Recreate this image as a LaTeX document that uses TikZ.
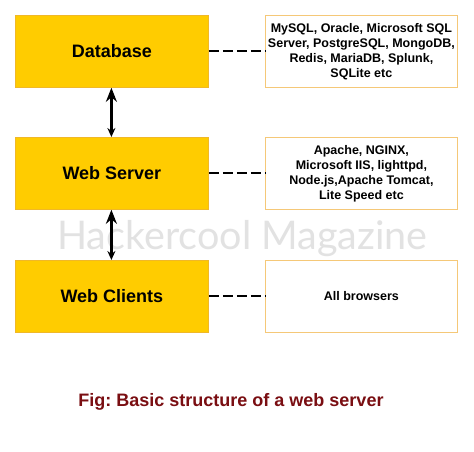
\documentclass[tikz,border=0pt]{standalone}
\usepackage{fontspec}
\setmainfont{Liberation Sans}
\newfontfamily\wmfont{Lato}
\usetikzlibrary{arrows.meta}
\frenchspacing
\definecolor{boxyellow}{RGB}{255,204,0}
\definecolor{boxedge}{RGB}{240,184,40}
\definecolor{infoedge}{RGB}{245,200,120}
\definecolor{capred}{RGB}{122,14,18}
\definecolor{wmgray}{RGB}{226,226,226}
\tikzset{
  mainbox/.style={draw=boxedge, line width=0.8pt, fill=boxyellow, minimum width=193pt, minimum height=72pt, inner sep=0pt, font=\fontsize{18}{20}\selectfont\bfseries, anchor=north west},
  infobox/.style={draw=infoedge, line width=0.8pt, fill=white, minimum width=192pt, minimum height=72pt, inner sep=0pt, align=center, font=\fontsize{12.5}{15}\selectfont\bfseries, anchor=north west},
  dashlink/.style={line width=2pt, dash pattern=on 10pt off 4pt},
  biarrow/.style={line width=2.4pt, {Stealth[length=14pt,width=11pt]}-{Stealth[length=9pt,width=8pt]}}
}
\begin{document}
\begin{tikzpicture}[x=1pt,y=-1pt]
\useasboundingbox[fill=white] (0,0) rectangle (474,451);
\node[font=\wmfont\fontsize{39.5}{44}\selectfont, text=wmgray] (wm) at (242.5,239) {Hackercool Magazine};
\node[mainbox] (db) at (15,15) {Database};
\node[mainbox] (ws) at (15,137) {Web Server};
\node[mainbox] (wc) at (15,260) {Web Clients};
\node[infobox] (dbi) at (265,15) {MySQL, Oracle, Microsoft SQL\\Server, PostgreSQL, MongoDB,\\Redis, MariaDB, Splunk,\\SQLite etc};
\node[infobox] (wsi) at (265,137) {Apache, NGINX,\\Microsoft IIS, lighttpd,\\Node.js,Apache Tomcat,\\Lite Speed etc};
\node[infobox] (wci) at (265,260) {All browsers};
\draw[dashlink] (db.east) -- (dbi.west);
\draw[dashlink] (ws.east) -- (wsi.west);
\draw[dashlink] (wc.east) -- (wci.west);
\draw[biarrow] ([xshift=-0.5pt]db.south) -- ([xshift=-0.5pt]ws.north);
\draw[biarrow] ([xshift=-0.5pt]ws.south) -- ([xshift=-0.5pt]wc.north);
\node[font=\fontsize{18}{20}\selectfont\bfseries, text=capred] (cap) at (231,402) {Fig: Basic structure of a web server};
\end{tikzpicture}
\end{document}
